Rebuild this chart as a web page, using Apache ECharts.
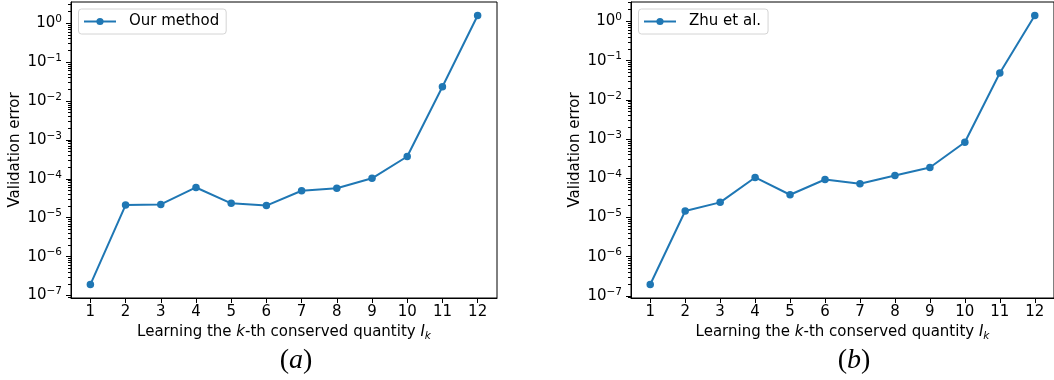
<!DOCTYPE html>
<html>
<head>
<meta charset="utf-8">
<script src="https://cdn.jsdelivr.net/npm/echarts@6/dist/echarts.min.js"></script>
<style>
html,body{margin:0;padding:0;background:#fff;}
#c{width:1054px;height:380px;}
</style>
</head>
<body>
<div id="c"></div>
<script>
const categories = [1, 2, 3, 4, 5, 6, 7, 8, 9, 10, 11, 12];
const ourMethod = [1.92e-7, 2.12e-5, 2.2e-5, 6.0e-5, 2.35e-5, 2.05e-5, 4.95e-5, 5.7e-5, 1.03e-4, 3.75e-4, 2.33e-2, 1.58];
const zhuEtAl = [1.95e-7, 1.46e-5, 2.43e-5, 1.05e-4, 3.8e-5, 9.3e-5, 7.25e-5, 1.18e-4, 1.88e-4, 8.3e-4, 4.85e-2, 1.42];
const yTickValues = [1e-7, 1e-6, 1e-5, 1e-4, 1e-3, 1e-2, 1e-1, 1];
const seriesNames = ['Our method', 'Zhu et al.'];
const captions = ['a', 'b'];

const BLUE = '#1f77b4';
const FONT = 'DejaVu Sans';

function xRange() {
  const a = categories[0], b = categories[categories.length - 1];
  const m = 0.05 * (b - a);
  return [a - m, b + m];
}
function yRange(vals) {
  const lo = Math.log10(Math.min(...vals)), hi = Math.log10(Math.max(...vals));
  const m = 0.05 * (hi - lo);
  return [Math.pow(10, lo - m), Math.pow(10, hi + m)];
}
function supLabel(v) {
  const e = Math.round(Math.log10(v));
  const s = e < 0 ? '\u2212' + (-e) : String(e);
  return '{b|10}{s|' + s + '}';
}

const grids = [
  { left: 71, top: 2, width: 426, height: 296 },
  { left: 631, top: 2, width: 426, height: 296 }
];
const allData = [ourMethod, zhuEtAl];
const xr = xRange();

const option = {
  animation: false,
  backgroundColor: '#fff',
  grid: grids.map(g => Object.assign({ show: true, borderColor: '#000', borderWidth: 1, containLabel: false }, g)),
  xAxis: grids.map((g, i) => ({
    type: 'value', gridIndex: i, min: xr[0], max: xr[1],
    minInterval: 1, maxInterval: 1,
    axisLine: { show: true, onZero: false, lineStyle: { color: '#000', width: 1 } },
    axisTick: { show: true, length: 5, lineStyle: { color: '#000', width: 1 }, customValues: categories },
    axisLabel: { customValues: categories, margin: 7, color: '#000', fontFamily: FONT, fontSize: 15, formatter: v => String(v) },
    splitLine: { show: false },
    name: 'Learning the {i|k}-th conserved quantity {i|I}{sub|k}',
    nameLocation: 'middle', nameGap: 24,
    nameTextStyle: {
      color: '#000', fontFamily: FONT, fontSize: 15,
      rich: {
        i: { fontFamily: FONT, fontSize: 15, fontStyle: 'italic', color: '#000' },
        sub: { fontFamily: FONT, fontSize: 10.5, fontStyle: 'italic', color: '#000', padding: [7, 0, 0, 0] }
      }
    }
  })),
  yAxis: grids.map((g, i) => {
    const yr = yRange(allData[i]);
    return {
      type: 'log', logBase: 10, gridIndex: i, min: yr[0], max: yr[1],
      axisLine: { show: true, lineStyle: { color: '#000', width: 1 } },
      axisTick: { show: true, length: 5, lineStyle: { color: '#000', width: 1 }, customValues: yTickValues },
      minorTick: { show: true, splitNumber: 9, length: 3, lineStyle: { color: '#000', width: 1 } },
      axisLabel: {
        customValues: yTickValues, margin: 9, color: '#000', fontFamily: FONT, fontSize: 15,
        formatter: supLabel,
        rich: {
          b: { fontFamily: FONT, fontSize: 15, color: '#000' },
          s: { fontFamily: FONT, fontSize: 10.5, color: '#000', padding: [0, 0, 8, 0] }
        }
      },
      splitLine: { show: false },
      minorSplitLine: { show: false },
      name: 'Validation error', nameLocation: 'middle', nameGap: 48,
      nameTextStyle: { color: '#000', fontFamily: FONT, fontSize: 15 }
    };
  }),
  legend: grids.map((g, i) => ({
    left: g.left + 7.5, top: 9, orient: 'horizontal',
    padding: [5, 7, 5, 4.5], itemWidth: 32, itemHeight: 9, itemGap: 0,
    borderColor: '#d4d4d4', borderWidth: 1, borderRadius: 3,
    backgroundColor: 'rgba(255,255,255,0.8)', selectedMode: false,
    textStyle: { color: '#000', fontFamily: FONT, fontSize: 15, padding: [0, 0, 0, 8] },
    data: [seriesNames[i]]
  })),
  series: allData.map((vals, i) => ({
    type: 'line', name: seriesNames[i], xAxisIndex: i, yAxisIndex: i,
    data: categories.map((c, k) => [c, vals[k]]),
    symbol: 'circle', symbolSize: 7.5, showSymbol: true,
    lineStyle: { color: BLUE, width: 2 },
    itemStyle: { color: BLUE },
    clip: false,
    emphasis: { disabled: true }
  })),
  graphic: captions.map((c, i) => ({
    type: 'text', x: i === 0 ? 296 : 854, y: 361,
    style: {
      text: '{p|(}{a|' + c + '}{p|)}',
      align: 'center', verticalAlign: 'middle',
      rich: {
        p: { fontFamily: 'Liberation Serif', fontSize: 28, fill: '#000' },
        a: { fontFamily: 'Liberation Serif', fontSize: 28, fontStyle: 'italic', fill: '#000' }
      }
    }
  }))
};

const chart = echarts.init(document.getElementById('c'), null, { renderer: 'canvas' });
chart.setOption(option);
</script>
</body>
</html>
